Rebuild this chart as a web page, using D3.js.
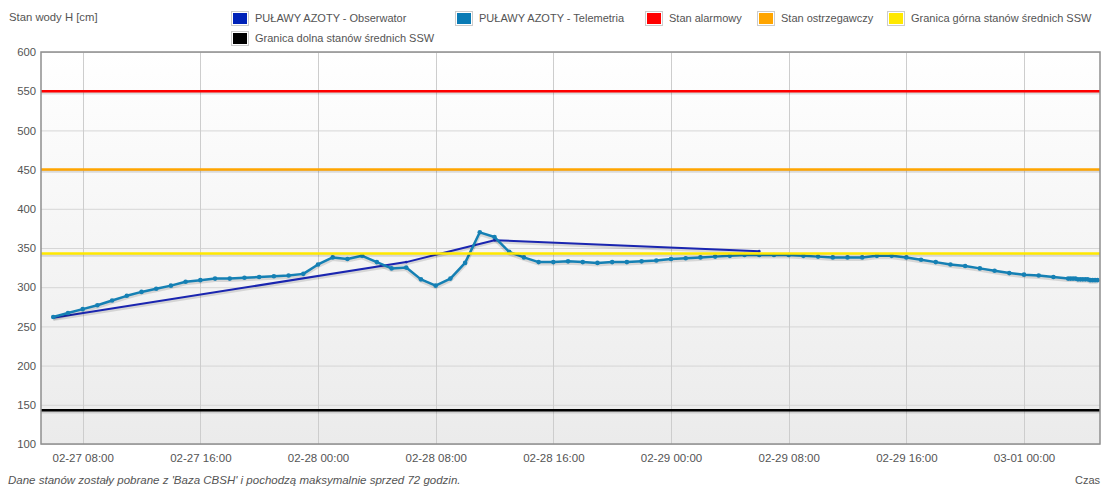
<!DOCTYPE html>
<html>
<head>
<meta charset="utf-8">
<script src="https://cdnjs.cloudflare.com/ajax/libs/d3/7.8.5/d3.min.js"></script>
<style>
  body { margin: 0; background: #fff; }
  svg text { font-family: "Liberation Sans", Arial, sans-serif; font-size: 11px; fill: #545454; }
</style>
</head>
<body>
<div id="chart"></div>
<script>
// telemetry readings, one per hour starting at hourlyStart
var hourlyStart = "2024-02-27T06:00";
var telemetryHourly = [
  262, 267, 272, 277, 283, 289, 294, 298, 302, 307, 309, 311, 311, 312, 313, 314, 315, 317,
  329, 338, 336, 340, 332, 324, 325, 310, 302, 311, 331, 370, 364, 345, 338, 332, 332, 333, 332, 331, 332, 332, 333, 334,
  336, 337, 338, 339, 340, 341, 341, 341, 341, 340, 339, 338, 338, 338, 340, 340, 338, 335, 332, 329, 327, 324, 321, 318,
  316, 315, 313, 311
];
// last readings come every 10 minutes
var telemetryTailTimes = ["2024-03-01T03:10", "2024-03-01T03:20", "2024-03-01T03:30", "2024-03-01T03:40",
  "2024-03-01T03:50", "2024-03-01T04:00", "2024-03-01T04:10", "2024-03-01T04:20", "2024-03-01T04:30",
  "2024-03-01T04:40", "2024-03-01T04:50", "2024-03-01T05:00"];
var telemetryTailValues = [311, 311, 311, 310, 310, 310, 310, 310, 309, 309, 309, 309];

var observerTimes = ["2024-02-27T06:00", "2024-02-28T06:00", "2024-02-28T12:00", "2024-02-29T06:00"];
var observerValues = [261, 332, 360, 346];

var thresholdNames = ["Stan alarmowy", "Stan ostrzegawczy", "Granica górna stanów średnich SSW", "Granica dolna stanów średnich SSW"];
var thresholdValues = [550, 450, 343, 143];
var thresholdColors = ["#ff0000", "#ffa500", "#ffe800", "#000000"];

var xTicks = ["2024-02-27T08:00", "2024-02-27T16:00", "2024-02-28T00:00", "2024-02-28T08:00", "2024-02-28T16:00",
  "2024-02-29T00:00", "2024-02-29T08:00", "2024-02-29T16:00", "2024-03-01T00:00"];
var yTicks = [100, 150, 200, 250, 300, 350, 400, 450, 500, 550, 600];
var xDomain = ["2024-02-27T05:10", "2024-03-01T05:10"];

var parse = d3.timeParse("%Y-%m-%dT%H:%M");

var width = 1103, height = 486;
var margin = {top: 52, right: 3, bottom: 42, left: 41};

var svg = d3.select("#chart").append("svg")
  .attr("width", width)
  .attr("height", height);

var x = d3.scaleTime()
  .domain(xDomain.map(parse))
  .range([margin.left, width - margin.right]);

var y = d3.scaleLinear()
  .domain([100, 600])
  .range([height - margin.bottom, margin.top]);

// build data
var t0 = parse(hourlyStart);
var telemetry = telemetryHourly.map(function (v, i) {
  return {t: d3.timeHour.offset(t0, i), v: v};
}).concat(telemetryTailTimes.map(function (s, i) {
  return {t: parse(s), v: telemetryTailValues[i]};
}));
var observer = observerTimes.map(function (s, i) { return {t: parse(s), v: observerValues[i]}; });

// background gradient
var defs = svg.append("defs");
var grad = defs.append("linearGradient").attr("id", "bg").attr("x1", 0).attr("y1", 0).attr("x2", 0).attr("y2", 1);
grad.append("stop").attr("offset", "0%").attr("stop-color", "#ffffff");
grad.append("stop").attr("offset", "100%").attr("stop-color", "#ebebeb");
defs.append("clipPath").attr("id", "clip").append("rect")
  .attr("x", margin.left).attr("y", margin.top)
  .attr("width", width - margin.left - margin.right)
  .attr("height", height - margin.top - margin.bottom);

svg.append("rect")
  .attr("x", margin.left).attr("y", margin.top)
  .attr("width", width - margin.left - margin.right)
  .attr("height", height - margin.top - margin.bottom)
  .attr("fill", "url(#bg)");

// grid
var grid = svg.append("g");
grid.selectAll(".hg").data(yTicks).enter().append("line")
  .attr("x1", margin.left).attr("x2", width - margin.right)
  .attr("y1", function (d) { return y(d) + 0.5; }).attr("y2", function (d) { return y(d) + 0.5; })
  .attr("stroke", "#d6d6d6");
grid.selectAll(".vg").data(xTicks.map(parse)).enter().append("line")
  .attr("x1", function (d) { return Math.round(x(d)) + 0.5; }).attr("x2", function (d) { return Math.round(x(d)) + 0.5; })
  .attr("y1", margin.top).attr("y2", height - margin.bottom)
  .attr("stroke", "#cdcdcd");

// axes
var yAxis = d3.axisLeft(y).tickValues(yTicks).tickSize(0).tickPadding(5);
svg.append("g").attr("transform", "translate(" + margin.left + ",0)").call(yAxis)
  .call(function (g) { g.select(".domain").remove(); })
  .selectAll("text").style("font-size", "11.3px").attr("fill", "#545454");

var xAxis = d3.axisBottom(x).tickValues(xTicks.map(parse)).tickFormat(d3.timeFormat("%m-%d %H:%M")).tickSize(0).tickPadding(10);
svg.append("g").attr("transform", "translate(0," + (height - margin.bottom) + ")").call(xAxis)
  .call(function (g) { g.select(".domain").remove(); })
  .selectAll("text").style("font-size", "11.5px").attr("fill", "#545454");

var plot = svg.append("g").attr("clip-path", "url(#clip)");
var line = d3.line().x(function (d) { return x(d.t); }).y(function (d) { return y(d.v); });

function drawSeries(data, color, w, r) {
  plot.append("path").datum(data)
    .attr("d", line).attr("fill", "none")
    .attr("stroke", "rgba(0,0,0,0.12)").attr("stroke-width", w + 1.5)
    .attr("transform", "translate(0,1.5)");
  plot.append("path").datum(data)
    .attr("d", line).attr("fill", "none")
    .attr("stroke", color).attr("stroke-width", w).attr("stroke-linejoin", "round");
  plot.selectAll(null).data(data).enter().append("circle")
    .attr("cx", function (d) { return x(d.t); })
    .attr("cy", function (d) { return y(d.v); })
    .attr("r", r).attr("fill", color);
}

drawSeries(observer, "#1a25b0", 2, 1.3);
drawSeries(telemetry, "#1580b4", 2.5, 2.3);

// threshold lines
thresholdValues.forEach(function (v, i) {
  plot.append("line")
    .attr("x1", margin.left).attr("x2", width - margin.right)
    .attr("y1", y(v) + 1.5).attr("y2", y(v) + 1.5)
    .attr("stroke", "rgba(0,0,0,0.12)").attr("stroke-width", 3.5);
  plot.append("line")
    .attr("x1", margin.left).attr("x2", width - margin.right)
    .attr("y1", y(v)).attr("y2", y(v))
    .attr("stroke", thresholdColors[i]).attr("stroke-width", 2.5);
});

// frame
svg.append("rect")
  .attr("x", margin.left).attr("y", margin.top)
  .attr("width", width - margin.left - margin.right)
  .attr("height", height - margin.top - margin.bottom)
  .attr("fill", "none").attr("stroke", "#8f8f8f").attr("stroke-width", 1.5);

// legend
var legendItems = [
  {name: "PUŁAWY AZOTY - Obserwator", color: "#0022b8", x: 231, y: 11},
  {name: "PUŁAWY AZOTY - Telemetria", color: "#0a7bb5", x: 455, y: 11},
  {name: thresholdNames[0], color: thresholdColors[0], x: 645, y: 11},
  {name: thresholdNames[1], color: thresholdColors[1], x: 757, y: 11},
  {name: thresholdNames[2], color: thresholdColors[2], x: 887, y: 11},
  {name: thresholdNames[3], color: thresholdColors[3], x: 231, y: 31}
];
var legend = svg.append("g");
legendItems.forEach(function (d) {
  legend.append("rect").attr("x", d.x + 0.5).attr("y", d.y + 0.5).attr("width", 17).attr("height", 14)
    .attr("fill", "#fff").attr("stroke", "#cccccc");
  legend.append("rect").attr("x", d.x + 2).attr("y", d.y + 2).attr("width", 14).attr("height", 11)
    .attr("fill", d.color);
  legend.append("text").attr("x", d.x + 24).attr("y", d.y + 11).text(d.name);
});

svg.append("text").attr("x", 9).attr("y", 21).style("font-size", "11.3px").text("Stan wody H [cm]");
svg.append("text").attr("x", 8).attr("y", 484).style("font-style", "italic").style("font-size", "11.5px")
  .text("Dane stanów zostały pobrane z 'Baza CBSH' i pochodzą maksymalnie sprzed 72 godzin.");
svg.append("text").attr("x", 1100).attr("y", 484).attr("text-anchor", "end").style("font-size", "11px").text("Czas");
</script>
</body>
</html>
